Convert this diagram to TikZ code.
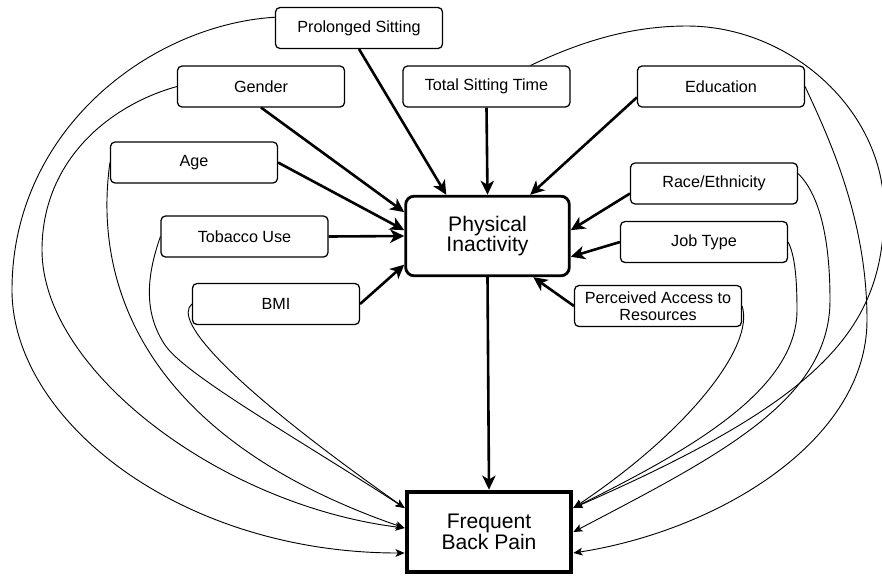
\documentclass[tikz,border=0pt]{standalone}
\usepackage{fontspec}
\setmainfont{Liberation Sans}
\usetikzlibrary{arrows.meta, calc, positioning}

\tikzset{
  factor/.style={draw, rounded corners=3pt, line width=0.9pt, fill=white,
    minimum width=4.17cm, minimum height=1.02cm, inner sep=1pt, align=center,
    font=\fontsize{11.5}{12}\selectfont},
  mediator/.style={draw, rounded corners=6pt, line width=2pt, fill=white,
    minimum width=4.09cm, minimum height=1.99cm, align=center,
    font=\fontsize{15}{14.5}\selectfont},
  outcome/.style={draw, line width=3.3pt, fill=white,
    minimum width=4.1cm, minimum height=2cm, align=center,
    font=\fontsize{15}{14.5}\selectfont},
  causal/.style={line width=1.85pt, -{Stealth[length=10pt,width=9.5pt,inset=2.8pt]}},
  direct/.style={line width=0.65pt, -{Stealth[length=6.5pt,width=5.5pt,inset=1.6pt]}}
}

\begin{document}
\begin{tikzpicture}[x=0.025cm, y=-0.025cm]

% Fix the page size
\useasboundingbox (0,0) rectangle (882,575);

% Factors around the mediator
\node[factor] (ps) at (359,28) {Prolonged Sitting};
\node[factor] (gender) at (261,86.5) {Gender};
\node[factor] (tst) at (486.5,86.5) {Total Sitting Time};
\node[factor] (edu) at (721,86.5) {Education};
\node[factor] (age) at (194,162.5) {Age};
\node[factor] (race) at (714,183.5) {Race/Ethnicity};
\node[factor] (tobacco) at (244.5,236.5) {Tobacco Use};
\node[factor] (job) at (704,242) {Job Type};
\node[factor] (bmi) at (276,304) {BMI};
\node[factor] (pa) at (658,306) {Perceived Access to\\Resources};

% Mediator and outcome
\node[mediator] (pi) at (487.5,236) {Physical\\Inactivity};
\node[outcome] (fbp) at (489,532) {Frequent\\Back Pain};

% Entry points on the outcome box
\coordinate (inL1) at ([yshift=0.6cm]fbp.west);
\coordinate (inL2) at ([yshift=0.1cm]fbp.west);
\coordinate (inL3) at ([yshift=-0.525cm]fbp.west);
\coordinate (inR1) at ([yshift=0.6cm]fbp.east);
\coordinate (inR2) at (fbp.east);
\coordinate (inR3) at ([yshift=-0.525cm]fbp.east);

% Thick arrows into Physical Inactivity
\draw[causal] (ps.south) -- (pi.135);
\draw[causal] (gender.south) -- (pi.164);
\draw[causal] (age.east) -- (pi.176);
\draw[causal] (tobacco.east) -- (pi.west);
\draw[causal] (bmi.east) -- (pi.199);
\draw[causal] (tst.south) -- (pi.north);
\draw[causal] ([yshift=-0.27cm]edu.west) -- (pi.44);
\draw[causal] ([yshift=-0.25cm]race.west) -- (pi.4);
\draw[causal] (job.west) -- (pi.346);
\draw[causal] (pa.west) -- (pi.318);
\draw[causal] (pi.south) -- (fbp.north);

% Direct paths, left side
\draw[direct] ([yshift=0.27cm]ps.west) .. controls (150,25) and (12,130) .. (12,290)
  .. controls (12,420) and (180,553) .. (inL3);
\draw[direct] (gender.west) .. controls (110,105) and (42,160) .. (42,250)
  .. controls (42,370) and (220,505) .. (inL2);
\draw[direct] (age.west) .. controls (92,290) and (150,440) .. (inL2);
\draw[direct] (tobacco.west) .. controls (145,280) and (145,315) .. (165,345)
  .. controls (185,375) and (300,440) .. (inL1);
\draw[direct] (bmi.west) .. controls (172,320) and (230,385) .. (inL1);

% Direct paths, right side
\draw[direct] (edu.east) .. controls (830,140) and (867,220) .. (867,320)
  .. controls (867,440) and (720,530) .. (inR3);
\draw[direct] ([yshift=0.25cm]race.east) .. controls (820,195) and (830,240) .. (830,300)
  .. controls (830,400) and (720,455) .. (inR2);
\draw[direct] (job.east) .. controls (795,255) and (797,280) .. (797,310)
  .. controls (797,390) and (690,450) .. (inR1);
\draw[direct] (pa.east) .. controls (755,345) and (690,430) .. (inR1);
\draw[direct] ([xshift=1.1cm]tst.north) .. controls (580,42) and (630,26) .. (687,26)
  .. controls (790,26) and (884,110) .. (884,210)
  .. controls (884,330) and (820,400) .. (inR1);

\end{tikzpicture}
\end{document}
